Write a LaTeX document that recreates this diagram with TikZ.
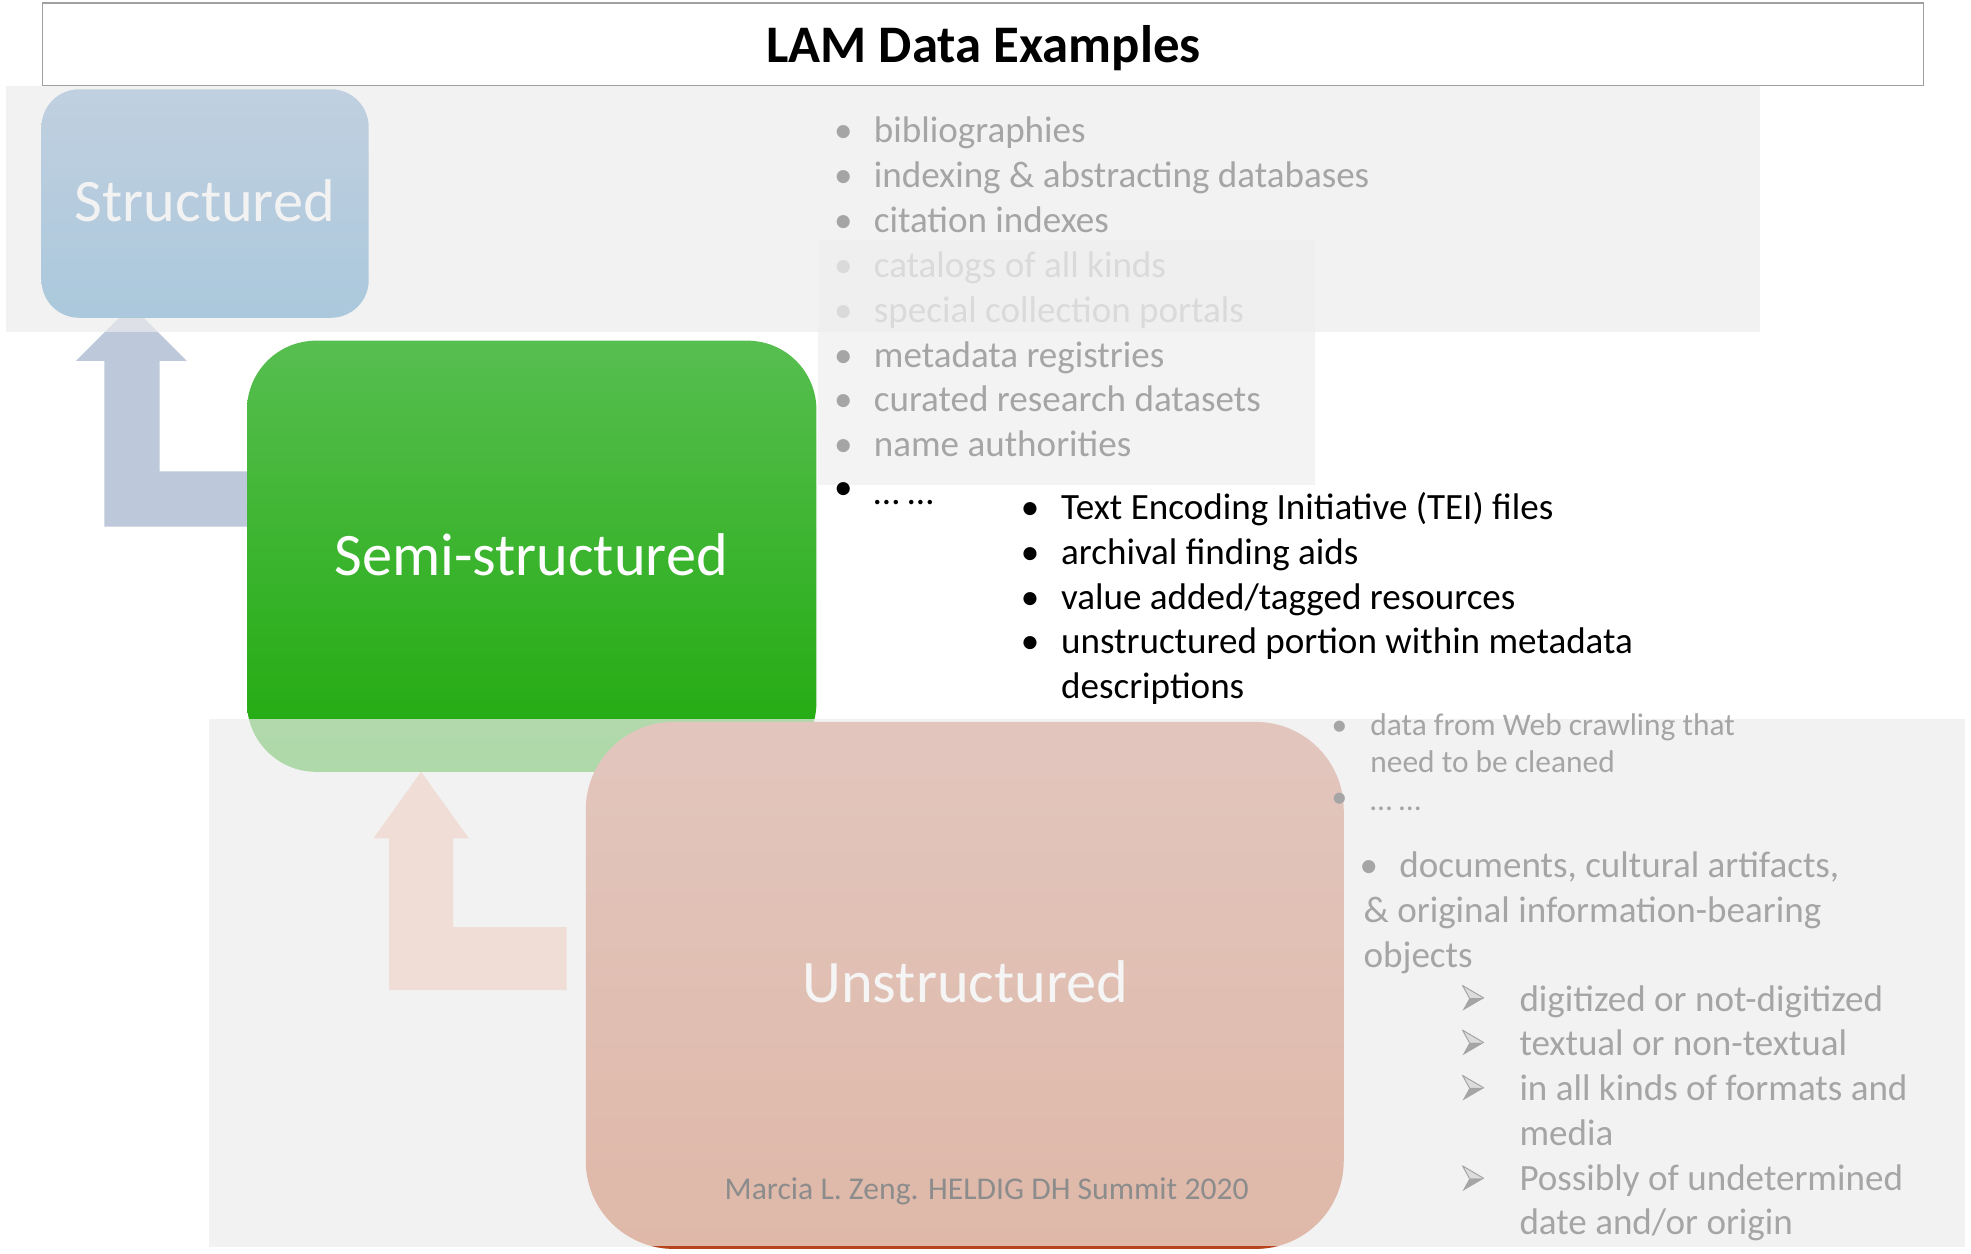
\documentclass[tikz,border=0pt]{standalone}
\usepackage{fontspec}
\setmainfont{Carlito}

\definecolor{txtgray}{HTML}{A5A5A5}
\definecolor{txtfaint}{HTML}{DADADA}
\definecolor{creditgray}{HTML}{8C8C8C}
\definecolor{framegray}{HTML}{A0A0A0}
\definecolor{panel}{HTML}{EDEDED}
\definecolor{midpanel}{HTML}{EFEFEF}
\definecolor{blueL}{HTML}{BDC8DA}
\definecolor{pinkL}{HTML}{F0DDD6}
\definecolor{structTop}{HTML}{C0D0E0}
\definecolor{structBot}{HTML}{ABC8DC}
\definecolor{semiTop}{HTML}{57BE50}
\definecolor{semiBot}{HTML}{1FAA0C}
\definecolor{unstTop}{HTML}{E2C6BE}
\definecolor{unstBot}{HTML}{DFB8A8}
\definecolor{unstEdge}{HTML}{B8441C}
\definecolor{arrowLight}{HTML}{DCDCDC}

\begin{document}
\begin{tikzpicture}[x=1pt,y=-1pt,
  item/.style={anchor=base west, inner sep=0pt, text=txtgray,
               font=\fontsize{29.5}{35.6}\selectfont},
  smallitem/.style={anchor=base west, inner sep=0pt, text=txtgray,
               font=\fontsize{25}{30}\selectfont},
  bul/.style={anchor=base, inner sep=0pt, text=txtgray,
               font=\fontsize{29.5}{35.6}\selectfont},
  smallbul/.style={anchor=base, inner sep=0pt, text=txtgray,
               font=\fontsize{25}{30}\selectfont},
  boxlabel/.style={anchor=base, inner sep=0pt, text=white,
               font=\fontsize{48}{56}\selectfont},
  layerbox/.style={rounded corners=#1},
  % three-d arrowhead list marker
  arrowhead marker/.pic={
    \fill[arrowLight] (-8.5,-10) -- (8.5,0) -- (-3,0) -- cycle;
    \draw[txtgray, line width=0.8pt, line join=round] (-3,0) -- (-8.5,-10) -- (8.5,0);
    \fill[txtgray] (-3,0) -- (8.5,0) -- (-8.5,10) -- cycle;
  },
]
\useasboundingbox (0,0) rectangle (1568,997);
\fill[white] (0,0) rectangle (1568,997);

% ---- heading -------------------------------------------------------
\draw[framegray, line width=1.2pt, fill=white] (34,2.3) rectangle (1530,68);
\node[anchor=base, inner sep=0pt, font=\fontsize{42}{48}\selectfont\bfseries]
  (title) at (782.5,50) {LAM Data Examples};

% ---- upward L arrow: semi-structured -> structured -------------------
\fill[blueL] (104.5,243) -- (148.5,287) -- (127,287) -- (127,375) -- (215,375)
  -- (215,419) -- (83,419) -- (83,287) -- (60.5,287) -- cycle;

% ---- structured layer ----------------------------------------------
\fill[panel, fill opacity=0.67] (5,68.2) rectangle (1400,264.2);
\path[layerbox=30pt, top color=structTop, bottom color=structBot]
  (33,71) rectangle (293.3,252.8);
\node[boxlabel, text=white!95!black] (structured) at (163,176.1) {Structured};

\fill[midpanel, fill opacity=0.75] (651,191) rectangle (1046,386);

\node[bul] (s1b) at (671,113.5) {•};
\node[item] (s1) at (695,113.5) {bibliographies};
\node[bul] (s2b) at (671,149.2) {•};
\node[item] (s2) at (695,149.2) {indexing \& abstracting databases};
\node[bul] (s3b) at (671,184.9) {•};
\node[item] (s3) at (695,184.9) {citation indexes};
\node[bul, text=txtfaint] (s4b) at (671,220.6) {•};
\node[item, text=txtfaint] (s4) at (695,220.6) {catalogs of all kinds};
\node[bul, text=txtfaint] (s5b) at (671,256.3) {•};
\node[item, text=txtfaint] (s5) at (695,256.3) {special collection portals};
\node[bul] (s6b) at (671,292) {•};
\node[item] (s6) at (695,292) {metadata registries};
\node[bul] (s7b) at (671,327.7) {•};
\node[item] (s7) at (695,327.7) {curated research datasets};
\node[bul] (s8b) at (671,363.4) {•};
\node[item] (s8) at (695,363.4) {name authorities};
\node[bul, text=black] (s9b) at (671,397) {•};
\node[item, text=black] (s9) at (695,401) {… …};

% ---- semi-structured layer -----------------------------------------
\path[layerbox=55pt, top color=semiTop, bottom color=semiBot]
  (196.5,271) rectangle (649.5,614);
\node[boxlabel] (semi) at (422.5,457.5) {Semi-structured};

\node[bul, text=black] (m1b) at (819.5,413) {•};
\node[item, text=black] (m1) at (844,413) {Text Encoding Initiative (TEI) files};
\node[bul, text=black] (m2b) at (819.5,449) {•};
\node[item, text=black] (m2) at (844,449) {archival finding aids};
\node[bul, text=black] (m3b) at (819.5,485) {•};
\node[item, text=black] (m3) at (844,485) {value added/tagged resources};
\node[bul, text=black] (m4b) at (819.5,520) {•};
\node[item, text=black] (m4) at (844,520) {unstructured portion within metadata};
\node[item, text=black] (m5) at (844,556) {descriptions};

% ---- unstructured layer --------------------------------------------
\fill[panel, fill opacity=0.7] (166.3,572) rectangle (1563,992);

\fill[pinkL] (335,614) -- (373,667) -- (360.5,667) -- (360.5,737.5) -- (450.7,737.5)
  -- (450.7,787.6) -- (309.6,787.6) -- (309.6,667) -- (297,667) -- cycle;

\path[layerbox=70pt, top color=unstTop, bottom color=unstBot]
  (466,574.3) rectangle (1069,993.5);
\begin{scope}
  \clip[layerbox=70pt] (466,574.3) rectangle (1069,993.5);
  \fill[unstEdge] (466,991) rectangle (1069,994);
\end{scope}
\node[boxlabel, text=white!96!black] (unstructured) at (768,797.6) {Unstructured};
\node[anchor=base, inner sep=0pt, text=creditgray, font=\fontsize{25.2}{30}\selectfont]
  (credit) at (785,953.9) {Marcia L. Zeng. HELDIG DH Summit 2020};

\node[smallbul] (u1b) at (1065.5,585) {•};
\node[smallitem] (u1) at (1090,585) {data from Web crawling that};
\node[smallitem] (u2) at (1090,614.4) {need to be cleaned};
\node[smallbul] (u3b) at (1065.5,642) {•};
\node[smallitem] (u3) at (1090,645) {… …};

\node[bul] (d1b) at (1089,697.8) {•};
\node[item] (d1) at (1113,697.8) {documents, cultural artifacts,};
\node[item] (d2) at (1084.6,733.8) {\& original information-bearing};
\node[item] (d3) at (1084.6,769.8) {objects};

\pic (a1b) at (1172,794) {arrowhead marker};
\node[item] (a1) at (1208.6,804.4) {digitized or not-digitized};
\pic (a2b) at (1172,829.5) {arrowhead marker};
\node[item] (a2) at (1208.6,839.4) {textual or non-textual};
\pic (a3b) at (1172,865.5) {arrowhead marker};
\node[item] (a3) at (1208.6,875.4) {in all kinds of formats and};
\node[item] (a4) at (1208.6,911.4) {media};
\pic (a5b) at (1172,937.5) {arrowhead marker};
\node[item] (a5) at (1208.6,947.4) {Possibly of undetermined};
\node[item] (a6) at (1208.6,982.4) {date and/or origin};
\end{tikzpicture}
\end{document}
